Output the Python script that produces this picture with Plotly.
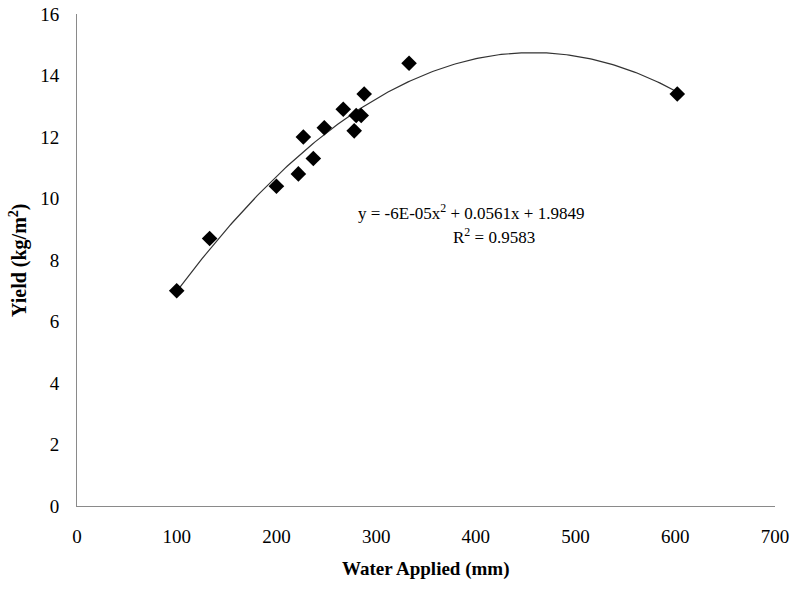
import numpy as np
import plotly.graph_objects as go

water = [100, 133, 200, 222, 227, 237, 248, 267, 278, 280, 285, 288, 333, 602]
yield_ = [7.0, 8.7, 10.4, 10.8, 12.0, 11.3, 12.3, 12.9, 12.2, 12.7, 12.7, 13.4, 14.4, 13.4]

x_ticks = [0, 100, 200, 300, 400, 500, 600, 700]
y_ticks = [0, 2, 4, 6, 8, 10, 12, 14, 16]

coef = np.polyfit(water, yield_, 2)
xf = np.linspace(min(water), max(water), 200)
yf = np.polyval(coef, xf)

FONT = "Liberation Serif, Times New Roman, serif"

L, R, T, B = 77, 25, 14, 83
W, H = 800, 589
pw, ph = W - L - R, H - T - B


def px(xp):
    return (xp - L) / pw


def py(yp):
    return 1 - (yp - T) / ph


fig = go.Figure()
fig.add_trace(go.Scatter(x=xf, y=yf, mode="lines",
                         line=dict(color="#333333", width=1.2), hoverinfo="skip"))
fig.add_trace(go.Scatter(x=water, y=yield_, mode="markers",
                         marker=dict(symbol="diamond", size=12, color="black")))

eqfont = dict(family=FONT, size=17, color="black")
tfont = dict(family=FONT, size=19, color="black")
ann = dict(xref="paper", yref="paper", showarrow=False,
           xanchor="center", yanchor="middle")
fig.add_annotation(x=px(471), y=py(212),
                   text="y = -6E-05x<sup>2</sup> + 0.0561x + 1.9849",
                   font=eqfont, **ann)
fig.add_annotation(x=px(494), y=py(236),
                   text="R<sup>2</sup> = 0.9583",
                   font=eqfont, **ann)
fig.add_annotation(x=px(425), y=py(569),
                   text="<b>Water Applied (mm)</b>",
                   font=dict(family=FONT, size=19, color="black"), **ann)
fig.add_annotation(x=px(18), y=py(260),
                   text="<b>Yield (kg/m<sup>2</sup>)</b>", textangle=-90,
                   font=dict(family=FONT, size=20, color="black"), **ann)

fig.update_layout(
    width=W, height=H,
    margin=dict(l=L, r=R, t=T, b=B, autoexpand=False),
    plot_bgcolor="white", paper_bgcolor="white",
    showlegend=False,
    font=tfont,
    xaxis=dict(range=[0, 700], tickvals=x_ticks, showgrid=False, zeroline=False,
               showline=True, linecolor="#8a8a8a", linewidth=1, automargin=False,
               ticks="outside", ticklen=13, tickcolor="rgba(0,0,0,0)",
               tickfont=tfont),
    yaxis=dict(range=[0, 16], tickvals=y_ticks, showgrid=False, zeroline=False,
               showline=True, linecolor="#8a8a8a", linewidth=1, automargin=False,
               ticks="outside", ticklen=13, tickcolor="rgba(0,0,0,0)",
               tickfont=tfont),
)

fig.write_html("out.html", config={"displayModeBar": False},
               post_script="document.body.style.margin='0';document.body.style.padding='0';")
